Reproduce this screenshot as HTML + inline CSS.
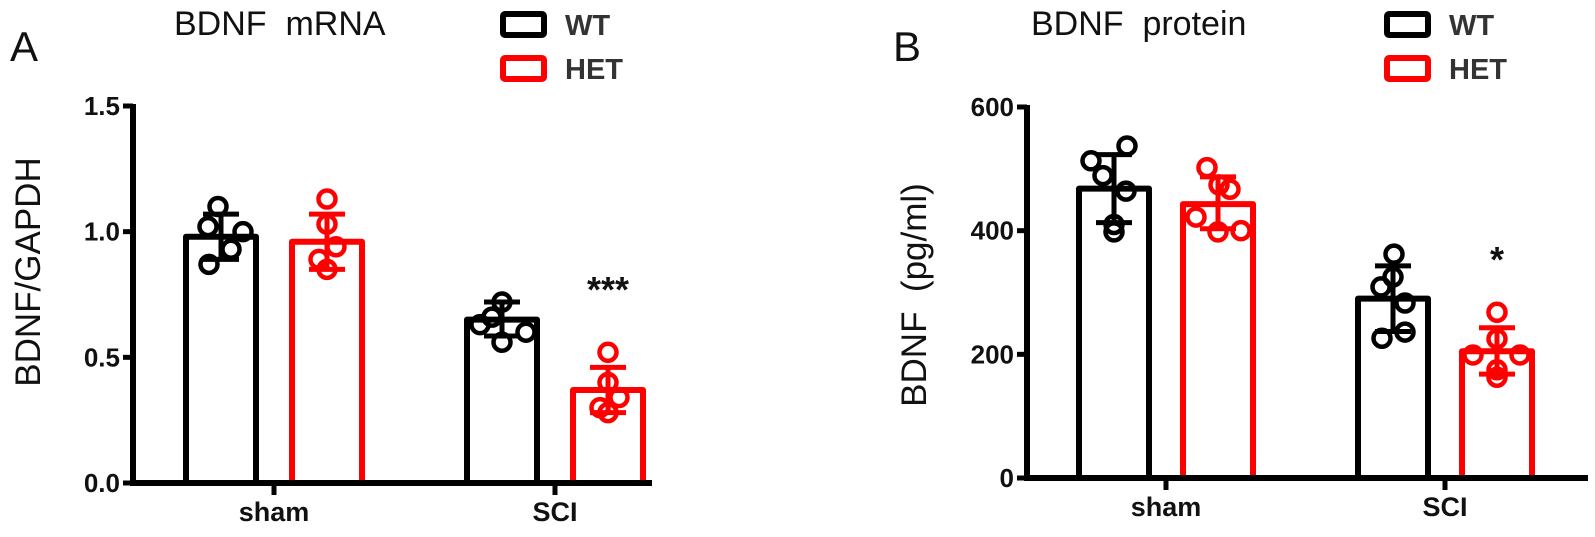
<!DOCTYPE html>
<html><head><meta charset="utf-8"><style>
html,body{margin:0;padding:0;background:#fff;}
svg{display:block;font-family:"Liberation Sans",Arial,sans-serif;}
svg text{white-space:pre;}
</style></head>
<body>
<svg id="chart" width="1595" height="537" viewBox="0 0 1595 537" xmlns="http://www.w3.org/2000/svg">
</svg>
<script>
// ---------- Panel A data (BDNF mRNA) ----------
const aCategories = ["sham", "SCI"];
const aTicks = [0.0, 0.5, 1.0, 1.5];
const aTickLabels = ["0.0", "0.5", "1.0", "1.5"];
const aWTMean = [0.98, 0.65];
const aWTUpper = [1.07, 0.72];
const aWTLower = [0.89, 0.585];
const aHETMean = [0.96, 0.37];
const aHETUpper = [1.07, 0.46];
const aHETLower = [0.85, 0.28];
const aWTPoints = [[1.10, 1.02, 1.00, 0.93, 0.87], [0.72, 0.63, 0.56, 0.60, 0.66]];
const aHETPoints = [[1.13, 1.03, 0.94, 0.89, 0.85], [0.52, 0.40, 0.34, 0.30, 0.28]];
const aSig = ["", "***"];

// ---------- Panel B data (BDNF protein) ----------
const bCategories = ["sham", "SCI"];
const bTicks = [0, 200, 400, 600];
const bTickLabels = ["0", "200", "400", "600"];
const bWTMean = [468, 290];
const bWTUpper = [523, 343];
const bWTLower = [413, 237];
const bHETMean = [443, 205];
const bHETUpper = [487, 243];
const bHETLower = [403, 168];
const bWTPoints = [[537, 513, 489, 464, 410, 398], [362, 325, 309, 283, 236, 226]];
const bHETPoints = [[502, 474, 467, 422, 398, 400], [268, 225, 199, 199, 175, 163]];
const bSig = ["", "*"];

const NS = "http://www.w3.org/2000/svg";
const svg = document.getElementById("chart");
function mk(tag, attrs, parent, text) {
  const e = document.createElementNS(NS, tag);
  for (const k in attrs) e.setAttribute(k, attrs[k]);
  if (text !== undefined) e.textContent = text;
  (parent || svg).appendChild(e);
  return e;
}
const jitterA = [[-3, -13, 22, 10, -12], [0, -22, 0, 24, -10]];
const jitterAH = [[0, 0, 9, -8, 0], [0, 0, 11, -8, 0]];
const jitterB = [[13, -23, -11, 12, 0, 0], [1, 0, -12, 12, 12, -11]];
const jitterBH = [[-11, 1, 12, -22, 0, 23], [0, 0, -24, 23, 0, 0]];

function panel(cfg) {
  const g = mk("g", {});
  
  
  const y = v => cfg.y0 - (v - cfg.min) / (cfg.max - cfg.min) * (cfg.y0 - cfg.y1);
  cfg.cats.forEach((c, i) => {
    [["wt", "#000", cfg.wtMean, cfg.wtUp, cfg.wtLo, cfg.wtPts, cfg.jw, 0],
     ["het", "#ff0000", cfg.hetMean, cfg.hetUp, cfg.hetLo, cfg.hetPts, cfg.jh, 1]].forEach(s => {
      const cx = cfg.groupX[i] + (s[7] ? cfg.off : -cfg.off);
      const top = y(s[2][i]);
      const bar = mk("path", {d: `M${cx - cfg.bw / 2},${cfg.y0} V${top} H${cx + cfg.bw / 2} V${cfg.y0}`, fill: "none", stroke: s[1], "stroke-width": 6, "stroke-linejoin": "round"}, g);
      
      
      const eb = mk("path", {d: `M${cx},${y(s[4][i])} V${y(s[3][i])} M${cx - 18},${y(s[3][i])} H${cx + 18} M${cx - 18},${y(s[4][i])} H${cx + 18}`, stroke: s[1], "stroke-width": 5, fill: "none"}, g);
      
      
      s[5][i].forEach((v, j) => {
        const p = mk("circle", {cx: cx + (s[6][i][j] || 0), cy: y(v), r: 8.5, fill: "none", stroke: s[1], "stroke-width": 4.5}, g);
        
        
      });
    });
    if (cfg.sig[i]) {
      const t = mk("text", {x: cfg.groupX[i] + cfg.off, y: cfg.sigY, "text-anchor": "middle", "font-size": 36, "font-weight": "bold", fill: "#111"}, g, cfg.sig[i]);
      
      
    }
    const tk = mk("line", {x1: cfg.groupX[i], x2: cfg.groupX[i], y1: cfg.y0, y2: cfg.y0 + 12, stroke: "#000", "stroke-width": 5}, g);
    
    
    const xl = mk("text", {x: cfg.groupX[i], y: cfg.y0 + 38, "text-anchor": "middle", "font-size": 27, "font-weight": "bold", fill: "#111"}, g, c);
    
    
  });
  const ax = mk("path", {d: `M${cfg.ax},${cfg.y1 - 2} V${cfg.y0} H${cfg.xEnd}`, fill: "none", stroke: "#000", "stroke-width": 6}, g);
  
  
  cfg.ticks.forEach((t, i) => {
    const ty = y(t);
    const tl = mk("line", {x1: cfg.ax - 10, x2: cfg.ax, y1: ty, y2: ty, stroke: "#000", "stroke-width": 5}, g);
    
    
    const lb = mk("text", {x: cfg.ax - 13, y: ty + 9, "text-anchor": "end", "font-size": 26, "font-weight": "bold", fill: "#111"}, g, cfg.tickLabels[i]);
    
    
  });
  const yt = mk("text", {x: 0, y: 0, transform: `translate(${cfg.ytX},${cfg.ytY}) rotate(-90)`, "text-anchor": "middle", "font-size": 35, fill: "#111"}, g, cfg.yTitle);
  
  
  const tt = mk("text", {x: cfg.titleX, y: 35, "font-size": 34, fill: "#111"}, g, cfg.title);
  
  
  const lt = mk("text", {x: cfg.letterX, y: 61, "font-size": 42, fill: "#111"}, g, cfg.letter);
  
  
  [["WT", "#000", 14], ["HET", "#ff0000", 58]].forEach(L => {
    const lg = mk("g", {}, g);
    
    
    mk("rect", {x: cfg.legX, y: L[2], width: 41, height: 21, rx: 2, fill: "none", stroke: L[1], "stroke-width": 6}, lg);
    mk("text", {x: cfg.legX + 62, y: L[2] + 21, "font-size": 29, "font-weight": "bold", fill: "#333"}, lg, L[0]);
  });
}

panel({name: "panel-a-mrna", cats: aCategories, ticks: aTicks, tickLabels: aTickLabels, min: 0, max: 1.5,
  y0: 483, y1: 106, ax: 133, xEnd: 652, groupX: [274, 555], off: 53, bw: 70,
  wtMean: aWTMean, wtUp: aWTUpper, wtLo: aWTLower, hetMean: aHETMean, hetUp: aHETUpper, hetLo: aHETLower,
  wtPts: aWTPoints, hetPts: aHETPoints, jw: jitterA, jh: jitterAH, sig: aSig, sigY: 302,
  yTitle: "BDNF/GAPDH", ytX: 40, ytY: 272, title: "BDNF  mRNA", titleX: 174, letter: "A", letterX: 10, legX: 503});

panel({name: "panel-b-protein", cats: bCategories, ticks: bTicks, tickLabels: bTickLabels, min: 0, max: 600,
  y0: 478, y1: 107, ax: 1027, xEnd: 1588, groupX: [1166, 1445], off: 52, bw: 70,
  wtMean: bWTMean, wtUp: bWTUpper, wtLo: bWTLower, hetMean: bHETMean, hetUp: bHETUpper, hetLo: bHETLower,
  wtPts: bWTPoints, hetPts: bHETPoints, jw: jitterB, jh: jitterBH, sig: bSig, sigY: 272,
  yTitle: "BDNF  (pg/ml)", ytX: 926, ytY: 295, title: "BDNF  protein", titleX: 1031, letter: "B", letterX: 893, legX: 1387});
</script>
</body></html>
